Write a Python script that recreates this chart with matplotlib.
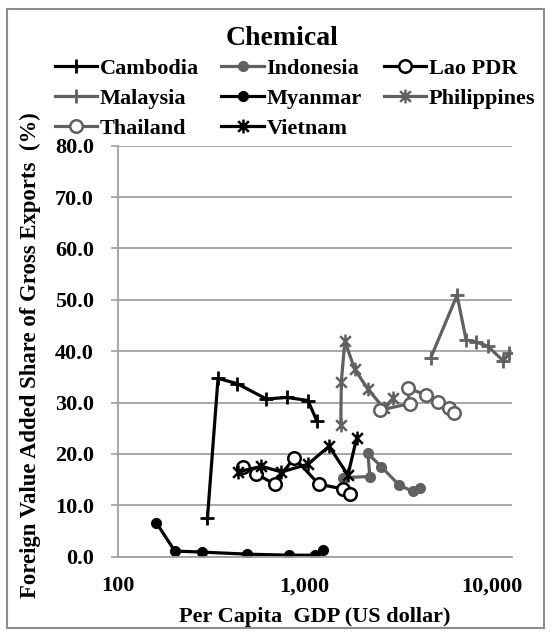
import matplotlib
matplotlib.use("Agg")
import matplotlib.pyplot as plt
from matplotlib.path import Path
from matplotlib.patches import Rectangle
from matplotlib.ticker import FixedLocator, FuncFormatter, NullLocator

plt.rcParams["font.family"] = ["Liberation Serif", "DejaVu Serif"]
plt.rcParams["font.weight"] = "bold"
plt.rcParams["axes.labelweight"] = "bold"

# per capita GDP (US$) and foreign value added share (%) by country
cambodia_x = [302, 344, 435, 624, 804, 1041, 1163]
cambodia_y = [7.5, 34.7, 33.7, 30.7, 31.0, 30.4, 26.4]
indonesia_x = [1600, 2230, 2180, 2570, 3210, 3800, 4150]
indonesia_y = [15.4, 15.6, 20.1, 17.5, 13.9, 12.7, 13.4]
lao_x = [468, 552, 692, 877, 1191, 1601, 1753]
lao_y = [17.5, 16.1, 14.1, 19.3, 14.1, 13.2, 12.2]
malaysia_x = [4710, 6530, 7300, 8255, 9520, 11550, 12430]
malaysia_y = [38.6, 50.9, 42.2, 41.8, 41.0, 38.1, 39.6]
myanmar_x = [161, 202, 283, 492, 824, 1130, 1253]
myanmar_y = [6.6, 1.1, 0.9, 0.5, 0.3, 0.3, 1.3]
philippines_x = [1560, 1570, 1640, 1850, 2180, 2650, 2960]
philippines_y = [25.6, 34.0, 42.0, 36.5, 32.6, 28.9, 30.8]
thailand_x = [2514, 3636, 3560, 4467, 5190, 5940, 6300]
thailand_y = [28.5, 29.8, 32.8, 31.5, 30.2, 28.9, 28.0]
vietnam_x = [440, 587, 751, 1041, 1350, 1703, 1900]
vietnam_y = [16.5, 17.6, 16.5, 18.0, 21.5, 15.9, 23.2]

y_ticks = [0, 10, 20, 30, 40, 50, 60, 70, 80]
x_ticks = [100, 1000, 10000]

# Excel-style star marker: an x with a vertical bar through it
star = Path([(-1, -1), (1, 1), (-1, 1), (1, -1), (0, -1.3), (0, 1.3)],
            [Path.MOVETO, Path.LINETO, Path.MOVETO, Path.LINETO,
             Path.MOVETO, Path.LINETO])

BLACK = "#000000"
GRAY = "#606060"

series = [
    ("Cambodia", cambodia_x, cambodia_y, BLACK, dict(marker="+", ms=10, mew=2)),
    ("Indonesia", indonesia_x, indonesia_y, GRAY, dict(marker="o", ms=7, mfc=GRAY)),
    ("Lao PDR", lao_x, lao_y, BLACK, dict(marker="o", ms=9, mfc="white", mew=1.8)),
    ("Malaysia", malaysia_x, malaysia_y, GRAY, dict(marker="+", ms=10, mew=2)),
    ("Myanmar", myanmar_x, myanmar_y, BLACK, dict(marker="o", ms=7, mfc=BLACK)),
    ("Philippines", philippines_x, philippines_y, GRAY, dict(marker=star, ms=10, mew=1.8)),
    ("Thailand", thailand_x, thailand_y, GRAY, dict(marker="o", ms=9, mfc="white", mew=1.8)),
    ("Vietnam", vietnam_x, vietnam_y, BLACK, dict(marker=star, ms=10, mew=1.8)),
]

fig = plt.figure(figsize=(5.51, 6.34), dpi=100)
ax = fig.add_axes([0.2136, 0.1219, 0.7151, 0.6483])

lines = []
for name, xs, ys, color, style in series:
    ln, = ax.plot(xs, ys, color=color, lw=2.3, mec=color, label=name, **style)
    lines.append(ln)

ax.set_xscale("log")
ax.set_xlim(100, 12800)
ax.set_ylim(0, 80)

ax.xaxis.set_major_locator(FixedLocator(x_ticks))
ax.xaxis.set_minor_locator(NullLocator())
ax.xaxis.set_major_formatter(FuncFormatter(lambda v, p: f"{v:,.0f}"))
ax.set_yticks(y_ticks)
ax.yaxis.set_major_formatter(FuncFormatter(lambda v, p: f"{v:.1f}"))

ax.tick_params(axis="x", length=0, pad=14, labelsize=16)
ax.tick_params(axis="y", length=5, width=1.2, color="#a0a0a0", pad=12, labelsize=16)

ax.grid(axis="y", color="#a0a0a0", lw=1.3)
ax.set_axisbelow(True)
for side in ("top", "right"):
    ax.spines[side].set_visible(False)
for side in ("left", "bottom"):
    ax.spines[side].set_color("#a0a0a0")
    ax.spines[side].set_linewidth(1.3)

ax.set_xlabel("Per Capita  GDP (US dollar)", fontsize=16, labelpad=8)
ax.set_ylabel("Foreign Value Added Share of Gross Exports  (%)", fontsize=16.4)
ax.yaxis.set_label_coords(-0.195, 0.49)

fig.text(0.512, 0.94, "Chemical", ha="center", va="center", fontsize=20)

# legend fills column by column; reorder so it reads row by row
order = [0, 3, 6, 1, 4, 7, 2, 5]
fig.legend([lines[i] for i in order], [series[i][0] for i in order],
           loc="upper left", bbox_to_anchor=(0.084, 0.922), ncol=3,
           frameon=False, fontsize=16, handlelength=1.9, handletextpad=0.12,
           columnspacing=1.0, labelspacing=0.43, borderaxespad=0)

fig.patches.append(Rectangle((0.012, 0.009), 0.976, 0.977, transform=fig.transFigure,
                             fill=False, ec="#8c8c8c", lw=1.5))

fig.savefig("out.png", dpi=100)
